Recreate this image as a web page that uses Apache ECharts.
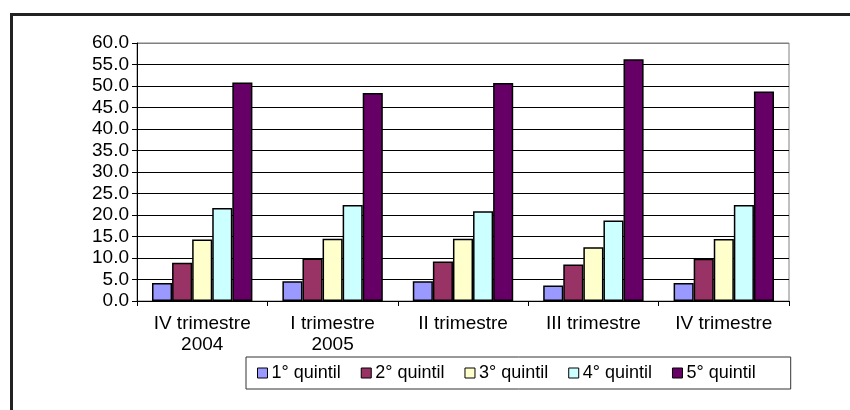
<!DOCTYPE html>
<html>
<head>
<meta charset="utf-8">
<script src="https://cdn.jsdelivr.net/npm/echarts@6/dist/echarts.min.js"></script>
<style>
  html, body { margin: 0; padding: 0; background: #fff; overflow: hidden; }
  #frame {
    position: absolute; left: 10px; top: 13px;
    width: 900px; height: 500px;
    border: 3px solid #222;
  }
  #chart { position: absolute; left: 0; top: 0; width: 850px; height: 410px; }
</style>
</head>
<body>
<div id="frame"></div>
<div id="chart"></div>
<script>
const categories = ["IV trimestre\n2004", "I trimestre\n2005", "II trimestre", "III trimestre", "IV trimestre"];
const seriesNames = ["1° quintil", "2° quintil", "3° quintil", "4° quintil", "5° quintil"];
const q1 = [4.2, 4.6, 4.6, 3.6, 4.2];
const q2 = [8.9, 9.9, 9.2, 8.5, 9.8];
const q3 = [14.3, 14.5, 14.5, 12.5, 14.4];
const q4 = [21.6, 22.3, 20.9, 18.7, 22.3];
const q5 = [50.8, 48.4, 50.7, 56.2, 48.7];
const values = [q1, q2, q3, q4, q5];

const colorList = ["#9999FF", "#993366", "#FFFFCC", "#CCFFFF", "#660066"];
const font = "'Liberation Sans', Arial, sans-serif";

// split lines: black, top one grey like the plot border
const splitColors = [];
for (let i = 0; i < 12; i++) splitColors.push("#000");
splitColors.push("#808080");

let myChart = echarts.init(document.getElementById("chart"));
myChart.setOption({
  animation: false,
  textStyle: { fontFamily: font, color: "#000" },
  grid: {
    left: 137,
    right: 61,
    top: 43,
    bottom: 109,
    containLabel: false,
    outerBoundsMode: "none",
    show: true,
    backgroundColor: "#fff",
    borderColor: "#808080",
    borderWidth: 1,
  },
  legend: {
    data: seriesNames,
    left: 246,
    top: 357,
    icon: "rect",
    itemWidth: 10,
    itemHeight: 10,
    itemGap: 20,
    padding: [7, 35, 7, 11],
    borderColor: "#333",
    borderWidth: 1,
    itemStyle: { borderColor: "#000", borderWidth: 1 },
    textStyle: { fontFamily: font, fontSize: 18, color: "#000", padding: [0, 0, 0, -1] },
  },
  xAxis: {
    type: "category",
    data: categories,
    axisLine: { lineStyle: { color: "#000", width: 1 } },
    axisTick: { show: true, alignWithLabel: false, length: 5, lineStyle: { color: "#000" } },
    axisLabel: {
      interval: 0,
      margin: 12,
      fontFamily: font,
      fontSize: 19,
      lineHeight: 21,
      color: "#000",
    },
  },
  yAxis: {
    type: "value",
    min: 0,
    max: 60,
    interval: 5,
    axisLine: { show: true, lineStyle: { color: "#000", width: 1 } },
    axisTick: { show: true, length: 5, lineStyle: { color: "#000" } },
    axisLabel: {
      margin: 8,
      fontFamily: font,
      fontSize: 19,
      color: "#000",
      formatter: (v) => v.toFixed(1),
    },
    splitLine: { show: true, lineStyle: { color: splitColors, width: 1 } },
  },
  series: values.map((data, index) => ({
    name: seriesNames[index],
    type: "bar",
    data: data,
    barGap: "0%",
    barCategoryGap: "23%",
    itemStyle: {
      color: colorList[index],
      borderColor: "#000",
      borderWidth: 1.5,
    },
  })),
});
</script>
</body>
</html>
